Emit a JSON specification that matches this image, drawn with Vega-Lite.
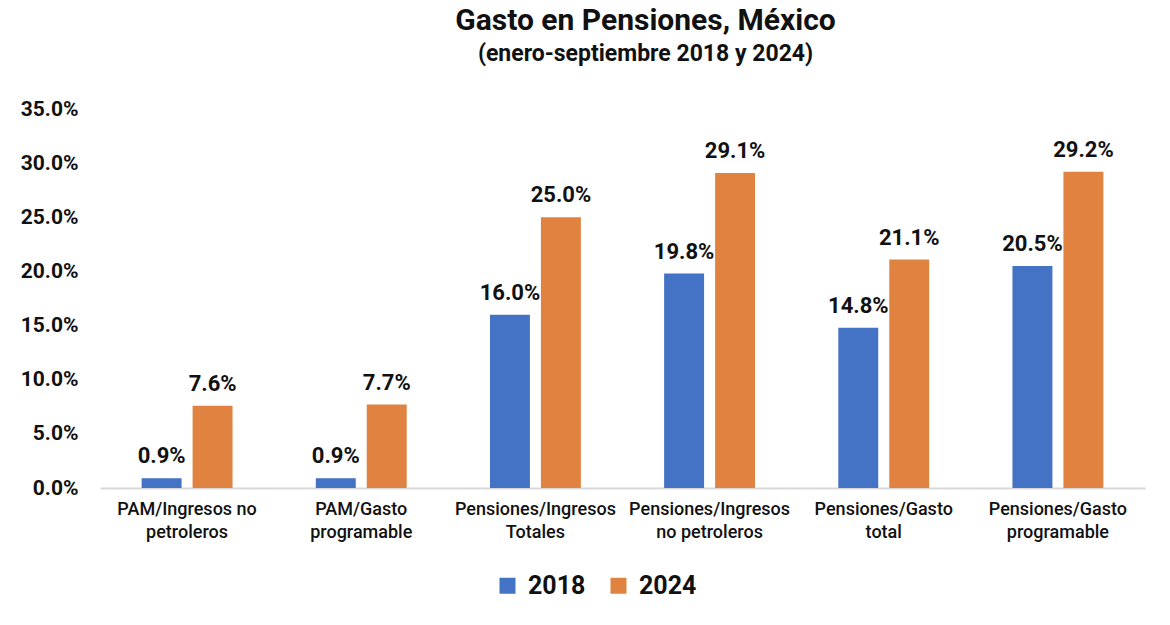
{
  "$schema": "https://vega.github.io/schema/vega-lite/v6.json",
  "title": {
    "text": "Gasto en Pensiones, México",
    "subtitle": "(enero-septiembre 2018 y 2024)",
    "anchor": "middle",
    "dx": 23,
    "font": "Roboto",
    "fontSize": 30,
    "fontWeight": "bold",
    "color": "#111111",
    "subtitleFont": "Roboto",
    "subtitleFontSize": 23,
    "subtitleFontWeight": "bold",
    "subtitleColor": "#111111",
    "subtitlePadding": 7,
    "offset": 32
  },
  "width": 1045,
  "height": 379,
  "padding": {"left": 20, "top": 6, "right": 10, "bottom": 10},
  "background": "white",
  "data": {
    "values": [
      {"cat": "PAM/Ingresos no|petroleros", "year": "2018", "value": 0.009},
      {"cat": "PAM/Ingresos no|petroleros", "year": "2024", "value": 0.076},
      {"cat": "PAM/Gasto|programable", "year": "2018", "value": 0.009},
      {"cat": "PAM/Gasto|programable", "year": "2024", "value": 0.077},
      {"cat": "Pensiones/Ingresos|Totales", "year": "2018", "value": 0.160},
      {"cat": "Pensiones/Ingresos|Totales", "year": "2024", "value": 0.250},
      {"cat": "Pensiones/Ingresos|no petroleros", "year": "2018", "value": 0.198},
      {"cat": "Pensiones/Ingresos|no petroleros", "year": "2024", "value": 0.291},
      {"cat": "Pensiones/Gasto|total", "year": "2018", "value": 0.148},
      {"cat": "Pensiones/Gasto|total", "year": "2024", "value": 0.211},
      {"cat": "Pensiones/Gasto|programable", "year": "2018", "value": 0.205},
      {"cat": "Pensiones/Gasto|programable", "year": "2024", "value": 0.292}
    ]
  },
  "encoding": {
    "x": {
      "field": "cat",
      "type": "nominal",
      "sort": null,
      "title": null,
      "scale": {"paddingInner": 0.478, "paddingOuter": 0.239},
      "axis": {
        "labelExpr": "split(datum.label, '|')",
        "labelAngle": 0,
        "labelFont": "Roboto",
        "labelFontSize": 18,
        "labelFontWeight": 500,
        "labelColor": "#111111",
        "labelLineHeight": 23,
        "labelPadding": 12,
        "labelLimit": 0,
        "ticks": false,
        "domainColor": "#D9D9D9",
        "domainWidth": 2
      }
    },
    "xOffset": {
      "field": "year",
      "type": "nominal",
      "scale": {"paddingInner": 0.216}
    },
    "y": {
      "field": "value",
      "type": "quantitative",
      "title": null,
      "scale": {"domain": [0, 0.35]},
      "axis": {
        "format": ".1%",
        "values": [0, 0.05, 0.1, 0.15, 0.2, 0.25, 0.3, 0.35],
        "grid": false,
        "domain": false,
        "ticks": false,
        "labelFont": "Roboto",
        "labelFontSize": 21,
        "labelFontWeight": "bold",
        "labelColor": "#111111",
        "labelPadding": 22
      }
    }
  },
  "layer": [
    {
      "mark": {"type": "bar"},
      "encoding": {
        "color": {
          "field": "year",
          "type": "nominal",
          "title": null,
          "scale": {"domain": ["2018", "2024"], "range": ["#4472C4", "#E08341"]},
          "legend": {
            "orient": "none",
            "legendX": 395,
            "legendY": 464,
            "direction": "horizontal",
            "symbolType": "square",
            "symbolSize": 256,
            "symbolStrokeWidth": 0,
            "labelFont": "Roboto",
            "labelFontSize": 25,
            "labelFontWeight": "bold",
            "labelColor": "#111111",
            "columnPadding": 20,
            "labelOffset": 8
          }
        }
      }
    },
    {
      "mark": {
        "type": "text",
        "baseline": "bottom",
        "dy": -10,
        "font": "Roboto",
        "fontSize": 22,
        "fontWeight": "bold",
        "color": "#111111"
      },
      "encoding": {
        "text": {"field": "value", "type": "quantitative", "format": ".1%"}
      }
    }
  ],
  "config": {"view": {"stroke": null}}
}
